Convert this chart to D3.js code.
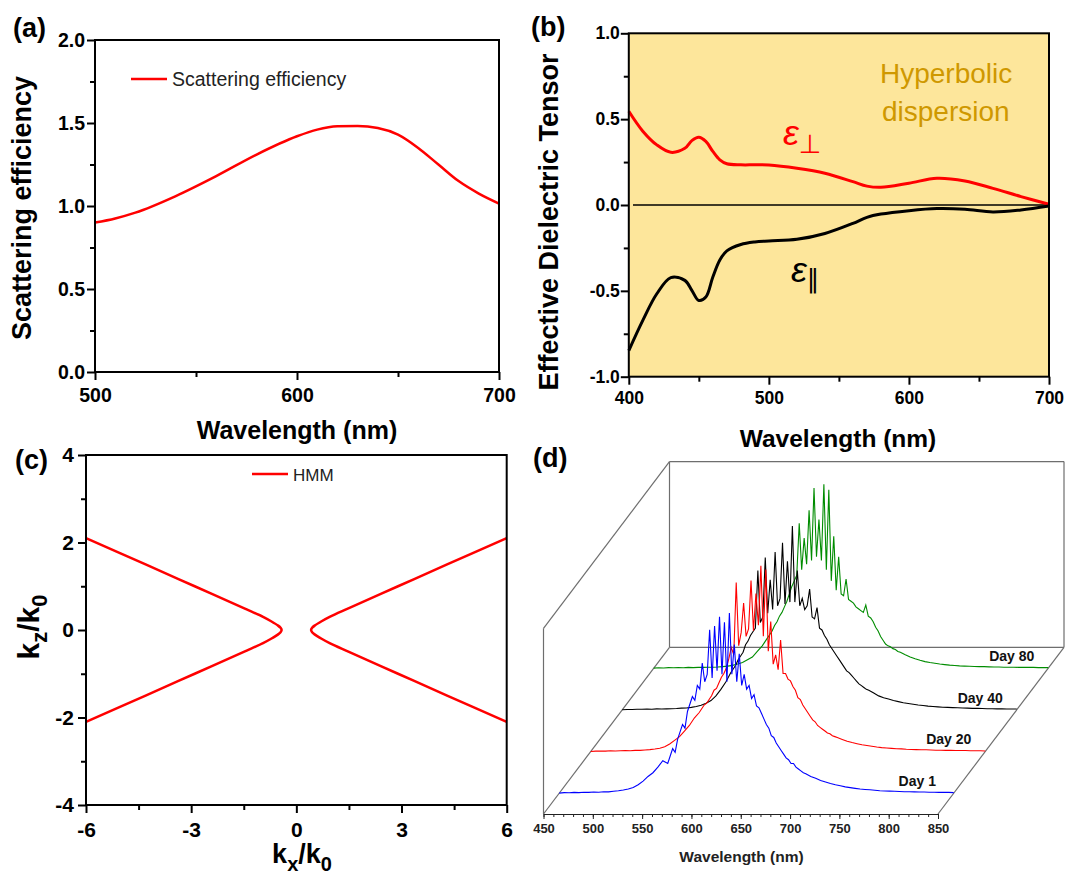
<!DOCTYPE html>
<html>
<head>
<meta charset="utf-8">
<script src="https://cdn.jsdelivr.net/npm/d3@7"></script>
<style>
  body { margin: 0; background: #fff; }
  svg { display: block; font-family: "Liberation Sans", Arial, sans-serif; }
</style>
</head>
<body>
<svg id="fig" width="1065" height="883"></svg>
<script>
// (a) scattering efficiency
const scatWl  = [500, 510, 520, 540, 560, 580, 600, 610, 620, 630, 640, 650, 660, 670, 680, 690, 700];
const scatEff = [0.90, 0.925, 0.96, 1.06, 1.18, 1.31, 1.42, 1.46, 1.48, 1.482, 1.47, 1.43, 1.35, 1.25, 1.15, 1.075, 1.015];
const aTicksX = [500, 600, 700], aMinorX = [550, 650];
const aTicksY = [0, 0.5, 1, 1.5, 2], aMinorY = [0.25, 0.75, 1.25, 1.75];

// (b) effective dielectric tensor
const tensorWl = [400, 410, 420, 430, 440, 445, 450, 455, 460, 465, 470, 480, 490, 500, 520, 540, 560, 570, 580, 600, 620, 640, 660, 680, 700];
const epsPerp  = [0.546, 0.43, 0.35, 0.307, 0.33, 0.375, 0.394, 0.37, 0.312, 0.263, 0.24, 0.234, 0.234, 0.233, 0.214, 0.185, 0.136, 0.11, 0.103, 0.127, 0.156, 0.14, 0.097, 0.049, 0.004];
const epsPar   = [-0.848, -0.672, -0.517, -0.423, -0.439, -0.497, -0.556, -0.536, -0.419, -0.32, -0.267, -0.23, -0.215, -0.209, -0.2, -0.166, -0.107, -0.072, -0.053, -0.033, -0.021, -0.025, -0.041, -0.029, -0.006];
const bTicksX = [400, 500, 600, 700], bMinorX = [450, 550, 650];
const bTicksY = [-1, -0.5, 0, 0.5, 1], bMinorY = [-0.75, -0.25, 0.25, 0.75];

// (c) HMM iso-frequency curve
const hmmKz      = [-2.1, -1.5, -1.0, -0.5, -0.3, -0.2, -0.1, -0.05, 0, 0.05, 0.1, 0.2, 0.3, 0.5, 1.0, 1.5, 2.1];
const hmmKxRight = [6.0, 4.3, 2.9, 1.5, 0.95, 0.72, 0.52, 0.45, 0.42, 0.45, 0.52, 0.72, 0.95, 1.5, 2.9, 4.3, 6.0];
const hmmKxLeft  = [-6.0, -4.3, -2.9, -1.5, -0.95, -0.72, -0.52, -0.45, -0.42, -0.45, -0.52, -0.72, -0.95, -1.5, -2.9, -4.3, -6.0];
const cTicksX = [-6, -3, 0, 3, 6], cMinorX = [-4.5, -1.5, 1.5, 4.5];
const cTicksY = [-4, -2, 0, 2, 4], cMinorY = [-3, -1, 1, 3];

// (d) spectra: 5 nm steps in the wings, 2.5 nm steps across the noisy peak
const days = ['Day 1', 'Day 20', 'Day 40', 'Day 80'];
const specWl = [...d3.range(450, 560, 5), ...d3.range(560, 700, 2.5), ...d3.range(700, 851, 5)];
const day1 = [
  // 450 - 555
  0.000, 0.003, 0.002, 0.004, 0.003, 0.005, 0.004, 0.006, 0.005, 0.008, 0.007,
  0.010, 0.013, 0.017, 0.022, 0.030, 0.045, 0.065, 0.090, 0.110, 0.140, 0.175,
  // 560 - 697.5
  0.160, 0.200, 0.240, 0.220, 0.290, 0.330, 0.370, 0.350, 0.440, 0.480, 0.520, 0.500,
  0.580, 0.560, 0.700, 0.600, 0.640, 0.880, 0.620, 0.900, 0.660, 0.950, 0.640, 0.920,
  0.600, 0.970, 0.640, 0.800, 0.600, 0.750, 0.580, 0.640, 0.560, 0.580, 0.510, 0.530,
  0.470, 0.460, 0.430, 0.400, 0.370, 0.350, 0.310, 0.300, 0.270, 0.250, 0.230, 0.210,
  0.190, 0.180, 0.160, 0.160, 0.140, 0.130, 0.120, 0.110,
  // 700 - 850
  0.105, 0.090, 0.080, 0.068, 0.060, 0.052, 0.045, 0.040, 0.034, 0.030, 0.026,
  0.022, 0.020, 0.018, 0.016, 0.013, 0.012, 0.011, 0.010, 0.009, 0.008, 0.008,
  0.007, 0.006, 0.006, 0.005, 0.005, 0.004, 0.004, 0.004, 0.003];
const day20 = [
  0.000, 0.002, 0.003, 0.002, 0.004, 0.003, 0.004, 0.005, 0.004, 0.006, 0.006,
  0.008, 0.010, 0.013, 0.017, 0.025, 0.040, 0.060, 0.080, 0.110, 0.140, 0.180,
  0.210, 0.230, 0.250, 0.260, 0.280, 0.300, 0.330, 0.340, 0.370, 0.400, 0.420, 0.450,
  0.500, 0.560, 0.520, 0.910, 0.570, 0.640, 0.800, 0.620, 0.660, 0.920, 0.650, 0.850,
  0.680, 1.000, 0.620, 0.980, 0.540, 0.700, 0.470, 0.520, 0.440, 0.600, 0.420, 0.420,
  0.390, 0.380, 0.350, 0.330, 0.290, 0.280, 0.250, 0.230, 0.210, 0.190, 0.170, 0.160,
  0.140, 0.130, 0.120, 0.110, 0.100, 0.095, 0.085, 0.080,
  0.075, 0.065, 0.055, 0.048, 0.042, 0.036, 0.032, 0.028, 0.024, 0.021, 0.019,
  0.017, 0.015, 0.014, 0.012, 0.011, 0.010, 0.009, 0.009, 0.008, 0.007, 0.007,
  0.006, 0.006, 0.005, 0.005, 0.005, 0.004, 0.004, 0.004, 0.003];
const day40 = [
  0.000, 0.002, 0.002, 0.003, 0.003, 0.004, 0.003, 0.005, 0.004, 0.005, 0.006,
  0.007, 0.009, 0.010, 0.013, 0.018, 0.025, 0.035, 0.050, 0.075, 0.110, 0.150,
  0.200, 0.220, 0.240, 0.270, 0.290, 0.310, 0.350, 0.370, 0.400, 0.420, 0.440, 0.750,
  0.470, 0.500, 0.820, 0.520, 0.700, 0.540, 0.850, 0.560, 0.600, 0.900, 0.570, 0.800,
  0.580, 0.990, 0.580, 0.750, 0.560, 0.600, 0.540, 0.560, 0.650, 0.500, 0.490, 0.550,
  0.440, 0.430, 0.400, 0.380, 0.350, 0.330, 0.310, 0.290, 0.270, 0.250, 0.230, 0.210,
  0.200, 0.185, 0.170, 0.155, 0.140, 0.130, 0.120, 0.110,
  0.105, 0.090, 0.075, 0.065, 0.058, 0.050, 0.044, 0.038, 0.034, 0.030, 0.026,
  0.023, 0.020, 0.018, 0.016, 0.014, 0.013, 0.012, 0.011, 0.010, 0.009, 0.008,
  0.008, 0.007, 0.006, 0.006, 0.005, 0.005, 0.004, 0.004, 0.004];
const day80 = [
  0.000, 0.002, 0.001, 0.003, 0.002, 0.003, 0.002, 0.004, 0.003, 0.004, 0.004,
  0.005, 0.005, 0.006, 0.008, 0.011, 0.015, 0.022, 0.030, 0.045, 0.060, 0.090,
  0.120, 0.140, 0.160, 0.180, 0.200, 0.230, 0.250, 0.280, 0.300, 0.330, 0.360, 0.400,
  0.440, 0.470, 0.500, 0.780, 0.530, 0.700, 0.560, 0.850, 0.580, 0.970, 0.600, 0.800,
  0.580, 0.990, 0.530, 0.960, 0.470, 0.710, 0.420, 0.600, 0.400, 0.390, 0.480, 0.370,
  0.360, 0.350, 0.330, 0.320, 0.310, 0.300, 0.340, 0.280, 0.270, 0.250, 0.220, 0.200,
  0.170, 0.150, 0.130, 0.120, 0.115, 0.105, 0.100, 0.090,
  0.085, 0.072, 0.060, 0.050, 0.042, 0.035, 0.030, 0.026, 0.022, 0.019, 0.016,
  0.014, 0.012, 0.011, 0.010, 0.009, 0.008, 0.008, 0.007, 0.006, 0.006, 0.005,
  0.005, 0.005, 0.004, 0.004, 0.004, 0.004, 0.003, 0.003, 0.003];
const spectra = [day1, day20, day40, day80];
const dTicksX = d3.range(450, 851, 50), dMinorX = d3.range(450, 851, 10);

const specColors = ['#0000ff', '#ff0000', '#000000', '#008c00'];

const svg = d3.select('#fig');
svg.append('rect').attr('width', 1065).attr('height', 883).attr('fill', '#fff');

// axes + frame for the three flat panels
function axisBox(g, x, y, o) {
    const [xl, xr] = x.range();
    const [yb, yt] = y.range();
    const styleAxis = sel => {
        sel.attr('font-family', null).attr('font-size', null);
        sel.select('.domain').remove();
        sel.selectAll('line').attr('stroke', '#000').attr('stroke-width', 2);
        sel.selectAll('text')
            .attr('font-size', o.tickFont)
            .attr('font-weight', 'bold')
            .attr('fill', '#000');
    };
    g.append('g').attr('transform', `translate(0,${yb})`)
        .call(d3.axisBottom(x).tickValues(o.xMajor).tickSize(8).tickPadding(o.xPad).tickFormat(o.fmt))
        .call(styleAxis);
    g.append('g').attr('transform', `translate(0,${yb})`)
        .call(d3.axisBottom(x).tickValues(o.xMinor).tickSize(5).tickFormat(''))
        .call(styleAxis);
    g.append('g').attr('transform', `translate(${xl},0)`)
        .call(d3.axisLeft(y).tickValues(o.yMajor).tickSize(8).tickPadding(o.yPad).tickFormat(o.yFmt || o.fmt))
        .call(styleAxis);
    g.append('g').attr('transform', `translate(${xl},0)`)
        .call(d3.axisLeft(y).tickValues(o.yMinor).tickSize(5).tickFormat(''))
        .call(styleAxis);
    g.append('rect')
        .attr('x', xl).attr('y', yt)
        .attr('width', xr - xl).attr('height', yb - yt)
        .attr('fill', 'none').attr('stroke', '#000').attr('stroke-width', 2);
}

function panelLabel(txt, x, y) {
    svg.append('text').attr('x', x).attr('y', y)
        .attr('font-size', 27).attr('font-weight', 'bold').text(txt);
}

function title(g, txt, x, y, size, rotate) {
    const t = g.append('text')
        .attr('text-anchor', 'middle')
        .attr('font-size', size).attr('font-weight', 'bold')
        .text(txt);
    if (rotate) t.attr('transform', `translate(${x},${y}) rotate(-90)`);
    else t.attr('x', x).attr('y', y);
    return t;
}

// ---------- (a) ----------
{
    const g = svg.append('g');
    const x = d3.scaleLinear().domain([500, 700]).range([95, 499]);
    const y = d3.scaleLinear().domain([0, 2]).range([372, 40]);
    const line = d3.line().x((d, i) => x(scatWl[i])).y(d => y(d)).curve(d3.curveMonotoneX);
    g.append('path').attr('d', line(scatEff))
        .attr('fill', 'none').attr('stroke', '#ff0000').attr('stroke-width', 2.5);
    axisBox(g, x, y, {
        xMajor: aTicksX, xMinor: aMinorX, yMajor: aTicksY, yMinor: aMinorY,
        tickFont: 19.5, xPad: 8, yPad: 2,
        fmt: d => String(d), yFmt: d => d.toFixed(1)
    });
    // legend
    g.append('line').attr('x1', 131).attr('x2', 167).attr('y1', 79).attr('y2', 79)
        .attr('stroke', '#ff0000').attr('stroke-width', 2.5);
    g.append('text').attr('x', 172).attr('y', 86).attr('font-size', 19.5).attr('fill', '#222')
        .text('Scattering efficiency');
    title(g, 'Wavelength (nm)', 297, 439, 25);
    title(g, 'Scattering efficiency', 31, 208, 27, true);
    panelLabel('(a)', 13, 37);
}

// ---------- (b) ----------
{
    const g = svg.append('g');
    const x = d3.scaleLinear().domain([400, 700]).range([628.8, 1049]);
    const y = d3.scaleLinear().domain([-1, 1]).range([376.7, 33.3]);
    g.append('rect')
        .attr('x', 628.8).attr('y', 33.3).attr('width', 1049 - 628.8).attr('height', 376.7 - 33.3)
        .attr('fill', '#fde69b');
    g.append('line')
        .attr('x1', x(403)).attr('x2', x(700)).attr('y1', y(0)).attr('y2', y(0))
        .attr('stroke', '#000').attr('stroke-width', 1.5);
    const line = arr => d3.line().x((d, i) => x(tensorWl[i])).y(d => y(d)).curve(d3.curveCatmullRom)(arr);
    g.append('path').attr('d', line(epsPerp))
        .attr('fill', 'none').attr('stroke', '#ff0000').attr('stroke-width', 3);
    g.append('path').attr('d', line(epsPar))
        .attr('fill', 'none').attr('stroke', '#000').attr('stroke-width', 3);
    axisBox(g, x, y, {
        xMajor: bTicksX, xMinor: bMinorX, yMajor: bTicksY, yMinor: bMinorY,
        tickFont: 17.5, xPad: 7, yPad: 1,
        fmt: d => String(d), yFmt: d => d.toFixed(1)
    });
    g.append('text').attr('x', 880).attr('y', 83).attr('font-size', 28).attr('fill', '#cf9800').text('Hyperbolic');
    g.append('text').attr('x', 882).attr('y', 121).attr('font-size', 28).attr('fill', '#cf9800').text('dispersion');

    const ep = g.append('text').attr('x', 783).attr('y', 145).attr('fill', '#ff0000');
    ep.append('tspan').attr('font-size', 36).attr('font-style', 'italic').text('ε');
    ep.append('tspan').attr('font-size', 26).attr('font-family', 'DejaVu Sans').attr('dy', 8).text('⊥');
    const ea = g.append('text').attr('x', 791).attr('y', 282).attr('fill', '#000');
    ea.append('tspan').attr('font-size', 36).attr('font-style', 'italic').text('ε');
    ea.append('tspan').attr('font-size', 26).attr('font-family', 'DejaVu Sans').attr('dy', 6).text('∥');

    title(g, 'Wavelength (nm)', 838, 447, 24.5);
    title(g, 'Effective Dielectric Tensor', 558, 222, 27, true);
    panelLabel('(b)', 531, 36);
}

// ---------- (c) ----------
{
    const g = svg.append('g');
    const x = d3.scaleLinear().domain([-6, 6]).range([86, 506.7]);
    const y = d3.scaleLinear().domain([-4, 4]).range([805, 455]);
    const line = kxArr => d3.line()
        .x((d, i) => x(kxArr[i])).y(d => y(d))
        .curve(d3.curveCatmullRom)(hmmKz);
    [hmmKxRight, hmmKxLeft].forEach(arr => {
        g.append('path').attr('d', line(arr))
            .attr('fill', 'none').attr('stroke', '#ff0000').attr('stroke-width', 2.5);
    });
    axisBox(g, x, y, {
        xMajor: cTicksX, xMinor: cMinorX, yMajor: cTicksY, yMinor: cMinorY,
        tickFont: 21, xPad: 9, yPad: 4,
        fmt: d => String(d)
    });
    g.append('line').attr('x1', 252).attr('x2', 288).attr('y1', 474).attr('y2', 474)
        .attr('stroke', '#ff0000').attr('stroke-width', 2.5);
    g.append('text').attr('x', 293).attr('y', 481).attr('font-size', 17).attr('fill', '#222').text('HMM');

    const kTitle = (t, sub, big, small) => {
        t.append('tspan').attr('font-size', big).text('k');
        t.append('tspan').attr('font-size', small).attr('dy', 8).text(sub);
        t.append('tspan').attr('font-size', big).attr('dy', -8).text('/k');
        t.append('tspan').attr('font-size', small).attr('dy', 8).text('0');
    };
    const tx = g.append('text').attr('x', 302).attr('y', 863)
        .attr('text-anchor', 'middle').attr('font-weight', 'bold');
    kTitle(tx, 'x', 27, 20);
    const ty = g.append('text').attr('transform', 'translate(39,627) rotate(-90)')
        .attr('text-anchor', 'middle').attr('font-weight', 'bold');
    kTitle(ty, 'z', 30, 22);
    panelLabel('(c)', 15, 469);
}

// ---------- (d) waterfall ----------
{
    const g = svg.append('g');
    const origin = [543.5, 814];
    const depth = [126, -166.7];
    const dX = d3.scaleLinear().domain([450, 850]).range([0, 394.5]);
    const dZ = d3.scaleLinear().domain([0, 1]).range([0, 185.7]);
    const dDay = d3.scalePoint().domain(days).range([0, 1]).padding(0.5);
    const proj = (wl, f, v) => [origin[0] + dX(wl) + f * depth[0], origin[1] + f * depth[1] - dZ(v)];

    // box edges
    const edges = [
        [[450, 0, 0], [450, 1, 0]], [[850, 0, 0], [850, 1, 0]], [[450, 1, 0], [850, 1, 0]],
        [[450, 0, 0], [450, 0, 1]], [[450, 0, 1], [450, 1, 1]], [[450, 1, 0], [450, 1, 1]],
        [[450, 1, 1], [850, 1, 1]], [[850, 1, 1], [850, 1, 0]]
    ];
    edges.forEach(([a, b]) => {
        const p = proj(...a), q = proj(...b);
        g.append('line').attr('x1', p[0]).attr('y1', p[1]).attr('x2', q[0]).attr('y2', q[1])
            .attr('stroke', '#6e6e6e').attr('stroke-width', 1.2);
    });

    // spectra, back to front
    for (let k = days.length - 1; k >= 0; k--) {
        const f = dDay(days[k]);
        const line = d3.line()
            .x((d, i) => proj(specWl[i], f, d)[0])
            .y((d, i) => proj(specWl[i], f, d)[1]);
        g.append('path').attr('d', line(spectra[k]))
            .attr('fill', 'none').attr('stroke', specColors[k]).attr('stroke-width', 1.1);
        const p = proj(813, f, 0);
        g.append('text').attr('x', p[0]).attr('y', p[1] - 7)
            .attr('text-anchor', 'middle').attr('font-size', 14).attr('font-weight', 'bold')
            .attr('fill', '#111').text(days[k]);
    }

    // front wavelength axis
    const ax = g.append('g').attr('transform', `translate(${origin[0]},${origin[1]})`);
    ax.call(d3.axisBottom(dX).tickValues(dMinorX).tickSize(3).tickSizeOuter(0).tickFormat(''));
    ax.append('g').call(d3.axisBottom(dX).tickValues(dTicksX).tickSize(5).tickSizeOuter(0).tickPadding(5));
    ax.attr('font-family', null).attr('font-size', null);
    ax.selectAll('g').attr('font-family', null).attr('font-size', null);
    ax.selectAll('.domain').attr('stroke', '#222').attr('stroke-width', 1.2);
    ax.selectAll('line').attr('stroke', '#222');
    ax.selectAll('text').attr('font-size', 13).attr('font-weight', 'bold').attr('fill', '#222');

    title(g, 'Wavelength (nm)', 741.5, 862, 15.5).attr('fill', '#222');
    panelLabel('(d)', 533, 467);
}
</script>
</body>
</html>
